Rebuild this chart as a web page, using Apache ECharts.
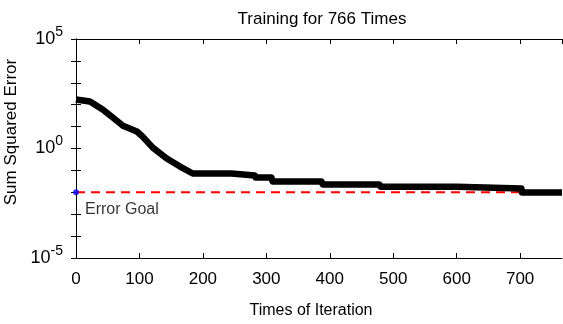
<!DOCTYPE html>
<html>
<head>
<meta charset="utf-8">
<script src="https://cdn.jsdelivr.net/npm/echarts@6/dist/echarts.min.js"></script>
<style>
    html, body { margin: 0; padding: 0; background: #fff; }
    #chart { width: 563px; height: 324px; }
</style>
</head>
<body>
<div id="chart"></div>
<script>
    // training curve
    var iterations = [0, 22, 42, 58, 74, 96, 105, 121, 143, 164, 184, 245, 247, 282, 283, 308, 310, 387, 389, 478, 480, 600, 601, 702, 703, 766];
    var errors = [173, 140, 60, 26, 11, 6, 3.5, 1.1, 0.35, 0.15, 0.072, 0.072, 0.059, 0.059, 0.047, 0.047, 0.031, 0.031, 0.023, 0.023, 0.018, 0.018, 0.015, 0.015, 0.0098, 0.0098];
    var goalX = [0, 766];
    var goalValue = 0.01;
    var yLabelPowers = [5, 0, -5];

    var font = "'Liberation Sans', Arial, sans-serif";

    var curve = iterations.map(function (x, i) { return [x, errors[i]]; });
    var goalLine = goalX.map(function (x) { return [x, goalValue]; });

    var chart = echarts.init(document.getElementById('chart'));
    chart.setOption({
        animation: false,
        title: {
            text: 'Training for 766 Times',
            left: 317,
            textAlign: 'center',
            top: 6,
            textStyle: { fontFamily: font, fontSize: 17, fontWeight: 'normal', color: '#000' }
        },
        grid: { left: 76, right: 1, top: 39, bottom: 66, containLabel: false, outerBoundsMode: 'none' },
        xAxis: [
            {
                type: 'value',
                min: 0,
                max: 766,
                interval: 100,
                name: 'Times of Iteration',
                nameLocation: 'middle',
                nameGap: 45,
                nameTextStyle: { fontFamily: font, fontSize: 16, color: '#000', padding: [0, 16, 0, 0] },
                axisLine: { lineStyle: { color: '#000', width: 1 } },
                axisTick: { inside: true, length: 5, lineStyle: { color: '#000' } },
                axisLabel: { fontFamily: font, fontSize: 17, color: '#000', margin: 13, showMaxLabel: false },
                splitLine: { show: false }
            },
            {
                type: 'value',
                position: 'top',
                min: 0,
                max: 766,
                interval: 100,
                axisLine: { show: true, lineStyle: { color: '#000', width: 1 } },
                axisTick: { show: true, inside: true, length: 5, lineStyle: { color: '#000' } },
                axisLabel: { show: false },
                splitLine: { show: false }
            }
        ],
        yAxis: [
            {
                type: 'log',
                logBase: 10,
                min: 1e-5,
                max: 1e5,
                interval: 1,
                name: 'Sum Squared Error',
                nameLocation: 'middle',
                nameGap: 45,
                nameTextStyle: { fontFamily: font, fontSize: 17, color: '#000', padding: [0, 0, 0, 33] },
                axisLine: { lineStyle: { color: '#000', width: 1 } },
                axisTick: { inside: true, length: 5, lineStyle: { color: '#000' } },
                axisLabel: {
                    fontFamily: font,
                    fontSize: 18,
                    color: '#000',
                    margin: 13,
                    formatter: function (v) {
                        var p = Math.round(Math.log10(v));
                        if (yLabelPowers.indexOf(p) < 0) return '';
                        return '10{sup|' + p + '}';
                    },
                    rich: {
                        sup: { fontFamily: font, fontSize: 14, color: '#000', verticalAlign: 'bottom', padding: [0, 0, 14, 0] }
                    }
                },
                splitLine: { show: false }
            },
            {
                type: 'log',
                logBase: 10,
                position: 'right',
                min: 1e-5,
                max: 1e5,
                interval: 1,
                axisLine: { show: true, lineStyle: { color: '#000', width: 1 } },
                axisTick: { show: true, inside: true, length: 5, lineStyle: { color: '#000' } },
                axisLabel: { show: false },
                splitLine: { show: false }
            }
        ],
        series: [
            {
                name: 'Goal',
                type: 'line',
                data: goalLine,
                showSymbol: false,
                lineStyle: { color: '#ff0000', width: 2, type: [9, 6] },
                z: 2
            },
            {
                name: 'Error',
                type: 'line',
                data: curve,
                showSymbol: false,
                lineStyle: { color: '#000', width: 6.5, join: 'round' },
                z: 3
            },
            {
                name: 'GoalPoint',
                type: 'scatter',
                data: [[goalX[0], goalValue]],
                symbol: 'circle',
                symbolSize: 6,
                clip: false,
                itemStyle: { color: '#0000ff' },
                label: {
                    show: true,
                    formatter: 'Error Goal',
                    position: [12, 12],
                    fontFamily: font,
                    fontSize: 16,
                    color: '#000'
                },
                z: 4
            }
        ]
    });
</script>
</body>
</html>
